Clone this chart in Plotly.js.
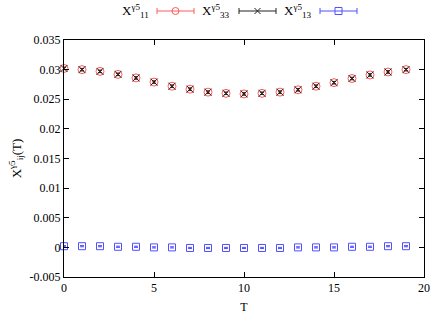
<!DOCTYPE html>
<html><head><meta charset="utf-8">
<script src="https://cdn.plot.ly/plotly-3.0.1.min.js"></script>
<style>html,body{margin:0;padding:0;background:#fff}#plot{width:436px;height:320px}</style>
</head><body><div id="plot"></div>
<script>
var T = [0,1,2,3,4,5,6,7,8,9,10,11,12,13,14,15,16,17,18,19];
var x11 = [0.0302,0.0300,0.0297,0.0292,0.0286,0.0279,0.0272,0.0267,0.0262,0.0260,0.0259,0.0260,0.0262,0.0266,0.0272,0.0278,0.0285,0.0291,0.0296,0.0300];
var x33 = [0.0302,0.0300,0.0297,0.0292,0.0286,0.0279,0.0272,0.0267,0.0262,0.0260,0.0259,0.0260,0.0262,0.0266,0.0272,0.0278,0.0285,0.0291,0.0296,0.0300];
var x13 = [0.0002,0.0002,0.0002,0.0001,0.0001,0.0000,0.0000,-0.0001,-0.0001,-0.0001,-0.0001,-0.0001,-0.0001,0.0000,0.0000,0.0000,0.0001,0.0001,0.0002,0.0002];
var err11 = [0.0002,0.0002,0.0002,0.0002,0.0002,0.0002,0.0002,0.0002,0.0002,0.0002,0.0002,0.0002,0.0002,0.0002,0.0002,0.0002,0.0002,0.0002,0.0002,0.0002];
var err33 = [0.0002,0.0002,0.0002,0.0002,0.0002,0.0002,0.0002,0.0002,0.0002,0.0002,0.0002,0.0002,0.0002,0.0002,0.0002,0.0002,0.0002,0.0002,0.0002,0.0002];
var err13 = [0.0001,0.0001,0.0001,0.0001,0.0001,0.0001,0.0001,0.0001,0.0001,0.0001,0.0001,0.0001,0.0001,0.0001,0.0001,0.0001,0.0001,0.0001,0.0001,0.0001];
var names = ["X<sup>γ5</sup><sub>11</sub>","X<sup>γ5</sup><sub>33</sub>","X<sup>γ5</sup><sub>13</sub>"];
var colors = ["#ff5a5a","#222222","#5050ff"];
var yTicks = [-0.005,0,0.005,0.01,0.015,0.02,0.025,0.03,0.035];
var yTickText = ["-0.005","0","0.005","0.01","0.015","0.02","0.025","0.03","0.035"];
var xTicks = [0,5,10,15,20];

var font = {family:"Liberation Serif, Times New Roman, serif", size:12, color:"#000"};
var bigFont = {family:"Liberation Serif, Times New Roman, serif", size:13, color:"#000"};
function tr(y, e, c, sym, sz){
  return {x:T, y:y, type:"scatter", mode:"markers",
    marker:{symbol:sym, size:sz, color:c, line:{color:c, width:1}},
    error_y:{type:"data", array:e, visible:true, color:c, thickness:1, width:2},
    showlegend:false, cliponaxis:false};
}
var data = [
  tr(x11, err11, colors[0], "circle-open", 8),
  tr(x33, err33, colors[1], "x-thin-open", 7),
  tr(x13, err13, colors[2], "square-open", 7)
];

// custom gnuplot-style legend
var shapes = [], annotations = [];
var legX = [[157,194],[239,276],[320,357]];
var textX = [151,232,314];
var ly = 11;
for (var i=0;i<3;i++){
  var a=legX[i][0], b=legX[i][1], c=colors[i];
  shapes.push({type:"line", xref:"paper", yref:"paper", x0:(a-64)/360, x1:(b-64)/360, y0:(277-ly)/237, y1:(277-ly)/237, line:{color:c,width:1}});
  shapes.push({type:"line", xref:"paper", yref:"paper", x0:(a-64)/360, x1:(a-64)/360, y0:(277-ly-3)/237, y1:(277-ly+3)/237, line:{color:c,width:1}});
  shapes.push({type:"line", xref:"paper", yref:"paper", x0:(b-64)/360, x1:(b-64)/360, y0:(277-ly-3)/237, y1:(277-ly+3)/237, line:{color:c,width:1}});
  var m = (a+b)/2;
  if (i===0){
    shapes.push({type:"circle", xref:"paper", yref:"paper", x0:(m-3.5-64)/360, x1:(m+3.5-64)/360, y0:(277-ly-3.5)/237, y1:(277-ly+3.5)/237, line:{color:c,width:1}, fillcolor:"rgba(0,0,0,0)"});
  } else if (i===1){
    shapes.push({type:"line", xref:"paper", yref:"paper", x0:(m-3-64)/360, x1:(m+3-64)/360, y0:(277-ly-3)/237, y1:(277-ly+3)/237, line:{color:c,width:1}});
    shapes.push({type:"line", xref:"paper", yref:"paper", x0:(m-3-64)/360, x1:(m+3-64)/360, y0:(277-ly+3)/237, y1:(277-ly-3)/237, line:{color:c,width:1}});
  } else {
    shapes.push({type:"rect", xref:"paper", yref:"paper", x0:(m-3.5-64)/360, x1:(m+3.5-64)/360, y0:(277-ly-3.5)/237, y1:(277-ly+3.5)/237, line:{color:c,width:1}, fillcolor:"rgba(0,0,0,0)"});
  }
  annotations.push({text:names[i], xref:"paper", yref:"paper", x:(textX[i]-64)/360, y:(277-ly)/237, xanchor:"right", yanchor:"middle", showarrow:false, font:bigFont});
}

var layout = {
  width:436, height:320,
  margin:{l:64, r:12, t:40, b:43},
  paper_bgcolor:"#fff", plot_bgcolor:"#fff",
  font:font,
  showlegend:false,
  xaxis:{range:[0,20], tickvals:xTicks, ticks:"inside", ticklen:5, tickcolor:"#000",
    showline:true, linecolor:"#000", linewidth:1, mirror:"ticks", showgrid:false, zeroline:false,
    tickfont:font, title:{text:"T", font:font, standoff:8}},
  yaxis:{range:[-0.005,0.035], tickvals:yTicks, ticktext:yTickText, ticks:"inside", ticklen:5, tickcolor:"#000",
    showline:true, linecolor:"#000", linewidth:1, mirror:"ticks", showgrid:false, zeroline:false,
    tickfont:font, title:{text:"X<sup>γ5</sup><sub>ij</sub>(T)", font:bigFont, standoff:5}},
  shapes:shapes, annotations:annotations
};
Plotly.newPlot("plot", data, layout, {displayModeBar:false, staticPlot:true});
</script></body></html>
